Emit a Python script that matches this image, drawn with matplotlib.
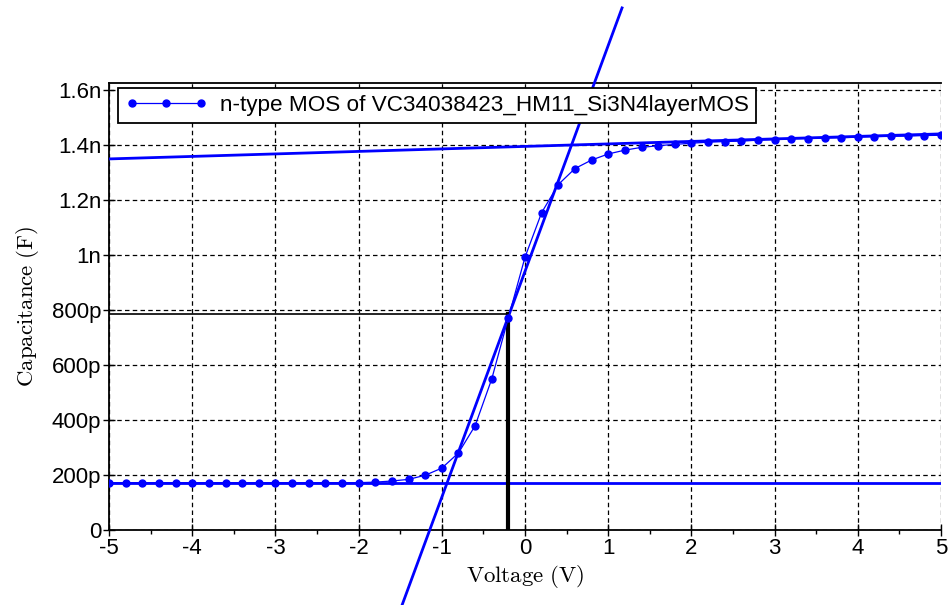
import matplotlib
matplotlib.use("Agg")
import matplotlib.pyplot as plt
import numpy as np
from matplotlib.ticker import MultipleLocator

plt.rcParams["font.family"] = ["Liberation Sans", "DejaVu Sans"]
plt.rcParams["mathtext.fontset"] = "cm"

# barrido de tension (V) y capacitancia medida (pF)
voltage = [-5.0, -4.8, -4.6, -4.4, -4.2, -4.0, -3.8, -3.6, -3.4, -3.2,
           -3.0, -2.8, -2.6, -2.4, -2.2, -2.0, -1.8, -1.6, -1.4, -1.2,
           -1.0, -0.8, -0.6, -0.4, -0.2, 0.0, 0.2, 0.4, 0.6, 0.8,
           1.0, 1.2, 1.4, 1.6, 1.8, 2.0, 2.2, 2.4, 2.6, 2.8,
           3.0, 3.2, 3.4, 3.6, 3.8, 4.0, 4.2, 4.4, 4.6, 4.8, 5.0]
cap_pF = [172, 172, 172, 172, 172, 172, 172, 172, 172, 172,
          172, 172, 172, 172, 172, 172, 174, 178, 184, 199,
          225, 280, 379, 549, 772, 992, 1154, 1256, 1314, 1345,
          1367, 1381, 1391, 1397, 1402, 1406, 1410, 1412, 1414, 1417,
          1419, 1422, 1423, 1425, 1426, 1428, 1430, 1431, 1432, 1434, 1435]

# rectas de ajuste
c_min_pF = 171                    # inversion (horizontal)
acc_ends_V = [-5.0, 5.0]          # acumulacion
acc_ends_pF = [1349, 1440]
dep_ends_V = [-1.478, 1.166]      # tangente de agotamiento (sale del eje)
dep_ends_pF = [-273, 1898]
v_fb = -0.2                       # banda plana
c_fb_pF = 784

yticks_pF = [0, 200, 400, 600, 800, 1000, 1200, 1400, 1600]
ytick_labels = ["0", "200p", "400p", "600p", "800p", "1n", "1.2n", "1.4n", "1.6n"]
xticks = [-5, -4, -3, -2, -1, 0, 1, 2, 3, 4, 5]

p = 1e-12
V = np.array(voltage)
C = np.array(cap_pF) * p
azul = "#0000ff"

fig = plt.figure(figsize=(9.49, 6.05), dpi=100)
ax = fig.add_axes([0.1149, 0.124, 0.8767, 0.7388])

ax.axhline(c_min_pF * p, color=azul, lw=2.0, zorder=3)
ax.plot(acc_ends_V, np.array(acc_ends_pF) * p, color=azul, lw=2.0, zorder=3)
ax.plot(dep_ends_V, np.array(dep_ends_pF) * p, color=azul, lw=2.0,
        clip_on=False, zorder=3)
ax.plot([-5, v_fb], [c_fb_pF * p, c_fb_pF * p], color="black", lw=1.2, zorder=4)
ax.plot([v_fb, v_fb], [0, c_fb_pF * p], color="black", lw=3.0, zorder=4)

ax.plot(V, C, "-o", color=azul, lw=0.9, ms=5, zorder=5,
        label="n-type MOS of VC34038423_HM11_Si3N4layerMOS")

ax.set_xlim(-5, 5)
ax.set_ylim(0, 1625 * p)
ax.set_xticks(xticks)
ax.set_xticklabels([str(t) for t in xticks])
ax.xaxis.set_minor_locator(MultipleLocator(0.5))
ax.set_yticks(np.array(yticks_pF) * p)
ax.set_yticklabels(ytick_labels)
ax.tick_params(which="major", direction="inout", length=9, width=1,
               labelsize=16, pad=1)
ax.tick_params(which="minor", direction="out", length=3, width=1)
ax.grid(True, which="major", color="black", ls=(0, (3.6, 2.6)), lw=0.9)
ax.spines["right"].set_visible(False)
for s in ax.spines.values():
    s.set_linewidth(1.3)

ax.set_xlabel(r"$\mathrm{Voltage\ (V)}$", fontsize=16.5, labelpad=3)
ax.set_ylabel(r"$\mathrm{Capacitance\ (F)}$", fontsize=16.5, labelpad=8)

leg = ax.legend(loc="upper left", bbox_to_anchor=(0.0108, 0.9888), fontsize=16.2,
                fancybox=False, framealpha=1, edgecolor="black",
                numpoints=3, handlelength=3.7, handletextpad=0.55,
                borderpad=0.3, borderaxespad=0)
leg.get_frame().set_linewidth(1.3)
leg.set_zorder(6)

fig.savefig("out.png", dpi=100)
